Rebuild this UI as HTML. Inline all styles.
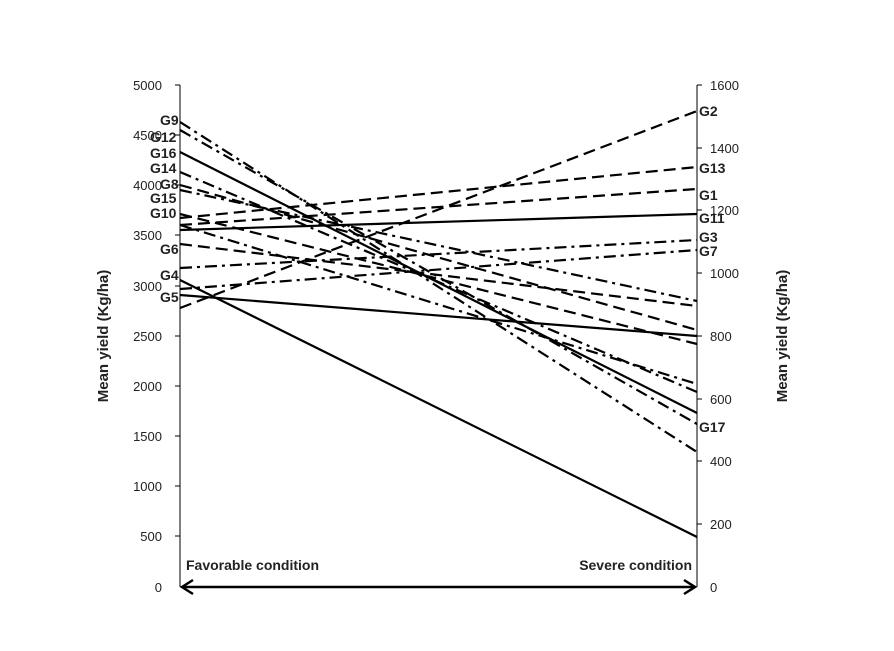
<!DOCTYPE html>
<html><head><meta charset="utf-8"><style>
body{margin:0;background:#fff}
svg{display:block;font-family:"Liberation Sans",sans-serif}
</style></head><body>
<svg width="894" height="651" viewBox="0 0 894 651">
<g stroke="#000" stroke-width="1">
<line x1="180" y1="85" x2="180" y2="587"/>
<line x1="697" y1="85" x2="697" y2="587"/>
<g id="lt">
<line x1="175" y1="85" x2="180" y2="85"/><line x1="175" y1="135" x2="180" y2="135"/>
<line x1="175" y1="185" x2="180" y2="185"/><line x1="175" y1="235" x2="180" y2="235"/>
<line x1="175" y1="286" x2="180" y2="286"/><line x1="175" y1="336" x2="180" y2="336"/>
<line x1="175" y1="386" x2="180" y2="386"/><line x1="175" y1="436" x2="180" y2="436"/>
<line x1="175" y1="486" x2="180" y2="486"/><line x1="175" y1="536" x2="180" y2="536"/>
</g>
<line x1="697" y1="85" x2="702" y2="85"/><line x1="697" y1="148" x2="702" y2="148"/>
<line x1="697" y1="210" x2="702" y2="210"/><line x1="697" y1="273" x2="702" y2="273"/>
<line x1="697" y1="336" x2="702" y2="336"/><line x1="697" y1="399" x2="702" y2="399"/>
<line x1="697" y1="461" x2="702" y2="461"/><line x1="697" y1="524" x2="702" y2="524"/>
</g>
<g font-size="13" fill="#222" text-anchor="end">
<text x="162" y="90">5000</text><text x="162" y="140">4500</text><text x="162" y="190">4000</text>
<text x="162" y="240">3500</text><text x="162" y="291">3000</text><text x="162" y="341">2500</text>
<text x="162" y="391">2000</text><text x="162" y="441">1500</text><text x="162" y="491">1000</text>
<text x="162" y="541">500</text><text x="162" y="592">0</text>
</g>
<g font-size="13" fill="#222">
<text x="710" y="90">1600</text><text x="710" y="153">1400</text><text x="710" y="215">1200</text>
<text x="710" y="278">1000</text><text x="710" y="341">800</text><text x="710" y="404">600</text>
<text x="710" y="466">400</text><text x="710" y="529">200</text><text x="710" y="592">0</text>
</g>
<g stroke="#000" stroke-width="2.2" fill="none">
<line x1="180" y1="152" x2="697" y2="413"/>
<line x1="180" y1="280" x2="697" y2="537"/>
<line x1="180" y1="295" x2="697" y2="336"/>
<line x1="180" y1="230" x2="697" y2="214"/>
<g stroke-dasharray="12,6">
<line x1="180" y1="308" x2="697" y2="111"/>
<line x1="180" y1="218" x2="697" y2="167"/>
<line x1="180" y1="225" x2="697" y2="189"/>
<line x1="180" y1="185" x2="697" y2="330"/>
<line x1="180" y1="214" x2="697" y2="344"/>
<line x1="180" y1="244" x2="697" y2="306"/>
</g>
<g stroke-dasharray="12,5,3,5">
<line x1="180" y1="268" x2="697" y2="240"/>
<line x1="180" y1="289" x2="697" y2="250"/>
<line x1="180" y1="122" x2="697" y2="452"/>
<line x1="180" y1="130" x2="697" y2="424"/>
<line x1="180" y1="172" x2="697" y2="392"/>
<line x1="180" y1="190" x2="697" y2="301"/>
<line x1="180" y1="225" x2="697" y2="384"/>
</g>
</g>
<g font-size="14" font-weight="bold" fill="#222">
<text x="160" y="125">G9</text><text x="150" y="142">G12</text><text x="150" y="158">G16</text>
<text x="150" y="173">G14</text><text x="160" y="189">G8</text><text x="150" y="203">G15</text>
<text x="150" y="218">G10</text><text x="160" y="254">G6</text><text x="160" y="280">G4</text>
<text x="160" y="302">G5</text>
<text x="699" y="116">G2</text><text x="699" y="173">G13</text><text x="699" y="200">G1</text>
<text x="699" y="223">G11</text><text x="699" y="242">G3</text><text x="699" y="256">G7</text>
<text x="699" y="432">G17</text>
</g>
<g font-size="14" font-weight="bold" fill="#222">
<text x="186" y="570">Favorable condition</text>
<text x="692" y="570" text-anchor="end">Severe condition</text>
<text transform="translate(108,336) rotate(-90)" text-anchor="middle" font-size="15">Mean yield (Kg/ha)</text>
<text transform="translate(787,336) rotate(-90)" text-anchor="middle" font-size="15">Mean yield (Kg/ha)</text>
</g>
<line x1="182" y1="587" x2="695" y2="587" stroke="#000" stroke-width="2.5"/>
<polyline points="193,580 182,587 193,594" fill="none" stroke="#000" stroke-width="2.5"/>
<polyline points="684,580 695,587 684,594" fill="none" stroke="#000" stroke-width="2.5"/>
</svg>
</body></html>
